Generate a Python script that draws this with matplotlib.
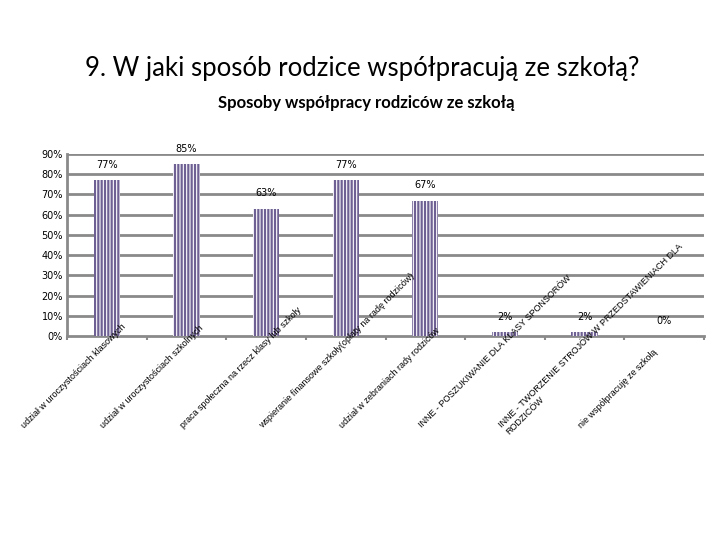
import matplotlib
matplotlib.use("Agg")
import matplotlib.pyplot as plt
import matplotlib.transforms as mtransforms
import numpy as np

# data
categories = [
    "udział w uroczystościach klasowych",
    "udział w uroczystościach szkolnych",
    "praca społeczna na rzecz klasy lub szkoły",
    "wspieranie finansowe szkoły(opłaty na radę rodziców)",
    "udział w zebraniach rady rodziców",
    "INNE - POSZUKIWANIE DLA KLASY SPONSORÓW",
    "INNE - TWORZENIE STROJÓW W PRZEDSTAWIENIACH DLA\nRODZICÓW",
    "nie współpracuję ze szkołą",
]
values = [77, 85, 63, 77, 67, 2, 2, 0]
yticks = [0, 10, 20, 30, 40, 50, 60, 70, 80, 90]

bar_col = "#6F6094"
grid_col = "#8a8a8a"

plt.rcParams["hatch.linewidth"] = 1.6

fig = plt.figure(figsize=(7.2, 5.4), dpi=100)
fig.text(0.503, 0.873, "9. W jaki sposób rodzice współpracują ze szkołą?",
         ha="center", va="center", fontsize=18.5, family="Lato")
fig.text(0.508, 0.809, "Sposoby współpracy rodziców ze szkołą",
         ha="center", va="center", fontsize=12, family="Lato", weight="bold")

ax = fig.add_axes([67 / 720, 1 - 336 / 540, (704 - 67) / 720, 182 / 540])
x = np.arange(len(categories))
ax.bar(x, values, width=0.33, facecolor="white", edgecolor=bar_col,
       hatch="|||||", linewidth=0, zorder=3)

ax.set_xlim(-0.5, len(categories) - 0.5)
ax.set_ylim(0, 90)
ax.set_yticks(yticks)
ax.set_yticklabels([f"{t}%" for t in yticks], fontsize=7, family="DejaVu Sans")
for t in yticks[1:]:
    ax.axhline(t, color=grid_col, lw=2, zorder=1)

for s in ["top", "right"]:
    ax.spines[s].set_visible(False)
ax.spines["left"].set_color(grid_col)
ax.spines["left"].set_linewidth(2)
ax.spines["bottom"].set_color(grid_col)
ax.spines["bottom"].set_linewidth(2)
ax.tick_params(axis="y", length=0, pad=3)
ax.set_xticks(np.arange(-0.5, len(categories), 1.0))
ax.set_xticklabels([])
ax.tick_params(axis="x", length=3, width=1.5, color=grid_col, direction="out")

# value labels above bars
for xi, v in zip(x, values):
    ax.annotate(f"{v}%", (xi, v), xytext=(0, 11), textcoords="offset points",
                ha="center", va="center", fontsize=7, family="DejaVu Sans")

# rotated category labels
trans = mtransforms.blended_transform_factory(ax.transData, ax.transAxes)
for xi, lab in zip(x, categories):
    ax.text(xi - 1.1, -0.48, lab, transform=trans, rotation=45,
            rotation_mode="anchor", ha="left", va="top",
            fontsize=6.5, family="Liberation Sans", linespacing=1.1)

fig.savefig("out.png", dpi=100)
